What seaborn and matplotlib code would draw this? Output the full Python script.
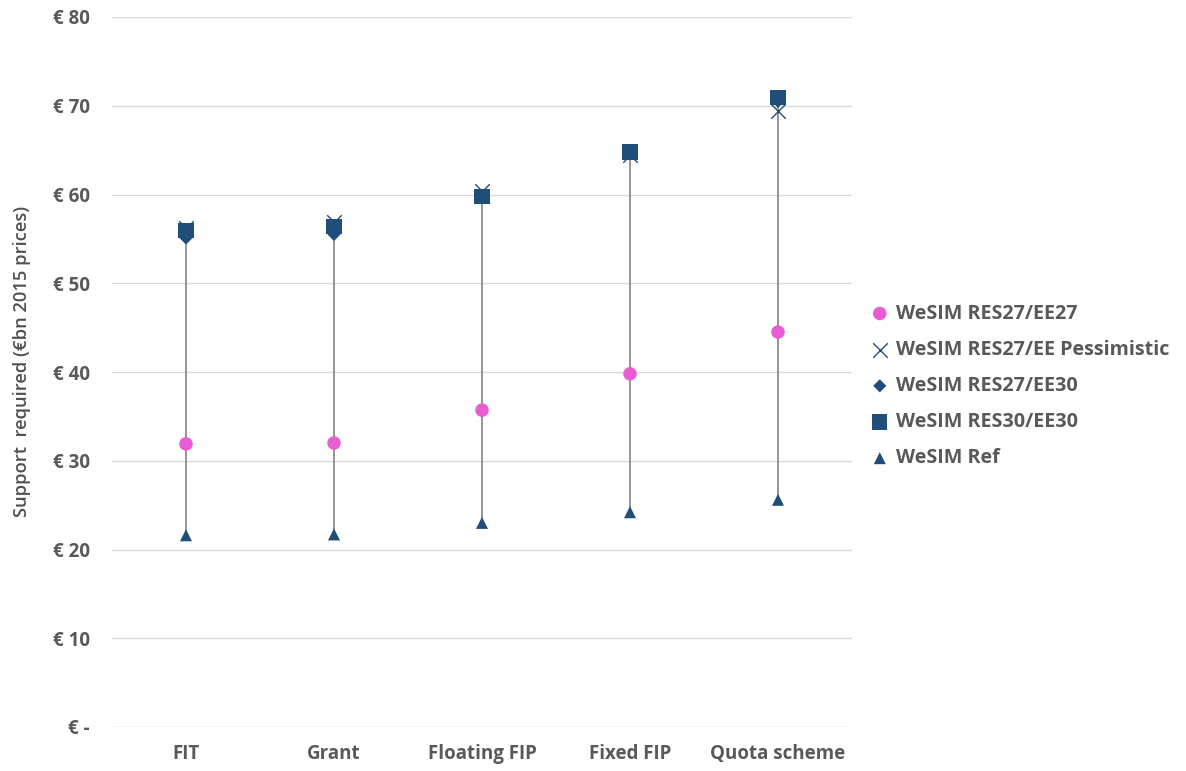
import matplotlib
matplotlib.use("Agg")
import matplotlib.pyplot as plt
import seaborn as sns
import pandas as pd
import numpy as np

categories = ["FIT", "Grant", "Floating FIP", "Fixed FIP", "Quota scheme"]
res27_ee27 = [31.9, 32.0, 35.7, 39.8, 44.5]
res27_ee_pess = [56.2, 56.9, 60.4, 64.5, 69.4]
res27_ee30 = [55.1, 55.5, 59.7, 64.6, 70.5]
res30_ee30 = [55.9, 56.4, 59.8, 64.8, 70.9]
ref = [21.6, 21.7, 23.0, 24.2, 25.6]

series_names = ["WeSIM RES27/EE27", "WeSIM RES27/EE Pessimistic", "WeSIM RES27/EE30",
                "WeSIM RES30/EE30", "WeSIM Ref"]
series_vals = [res27_ee27, res27_ee_pess, res27_ee30, res30_ee30, ref]

sns.set_theme(style="white")
plt.rcParams['font.family'] = ['Open Sans', 'DejaVu Sans']

text_col = "#595959"
blue = "#1F4E79"
pink = "#E85DD4"
styles = {
    "WeSIM RES27/EE27": dict(marker="o", color=pink, s=95),
    "WeSIM RES27/EE Pessimistic": dict(marker="x", color=blue, s=110, linewidths=1.0),
    "WeSIM RES27/EE30": dict(marker="D", color=blue, s=45),
    "WeSIM RES30/EE30": dict(marker="s", color=blue, s=120),
    "WeSIM Ref": dict(marker="^", color=blue, s=75),
}

fig = plt.figure(figsize=(11.86, 7.71), dpi=100)
ax = fig.add_axes([112/1186, 1-727/771, 740/1186, 710/771])

xpos = np.arange(len(categories))
allv = np.array(series_vals)
ax.vlines(xpos, allv.min(axis=0), allv.max(axis=0), color="#8C8C8C", linewidth=1.3, zorder=1)

for name, vals in zip(series_names, series_vals):
    df = pd.DataFrame({"cat": categories, "val": vals})
    st = styles[name]
    kw = dict(marker=st["marker"], color=st["color"], s=st["s"], label=name, zorder=3)
    if st["marker"] == "x":
        kw["linewidth"] = st["linewidths"]
    else:
        kw["edgecolor"] = "none"
        kw["linewidth"] = 0
    sns.scatterplot(data=df, x="cat", y="val", ax=ax, **kw)

ax.set_xlim(-0.5, 4.5)
ax.set_ylim(0, 80)
ax.set_yticks(range(0, 81, 10))
ax.set_yticklabels(["€ -"] + [f"€ {v}" for v in range(10, 81, 10)])
ax.yaxis.grid(True, color="#D9D9D9", linewidth=1)
ax.set_axisbelow(True)
for sp in ax.spines.values():
    sp.set_visible(False)
ax.tick_params(axis="both", length=0, colors=text_col)
ax.tick_params(axis="y", pad=16, labelsize=13.5)
ax.tick_params(axis="x", pad=12, labelsize=13.5)
for lab in ax.get_xticklabels() + ax.get_yticklabels():
    lab.set_fontweight("bold")
ax.set_xlabel("")
ax.set_ylabel("Support  required (€bn 2015 prices)", color="#505050", fontsize=13.2,
              fontweight="semibold")
ax.yaxis.set_label_coords(-0.109, 0.515)

leg = ax.legend(loc="center left", frameon=False,
                fontsize=14.2, labelspacing=0.82, handletextpad=0.0, borderaxespad=0,
                borderpad=0, handlelength=1.6, markerscale=1.0)
for t in leg.get_texts():
    t.set_color(text_col)
    t.set_fontweight("bold")
leg.set_bbox_to_anchor((864/1186, 1-386/771), transform=fig.transFigure)

fig.savefig("out.png", dpi=100)
